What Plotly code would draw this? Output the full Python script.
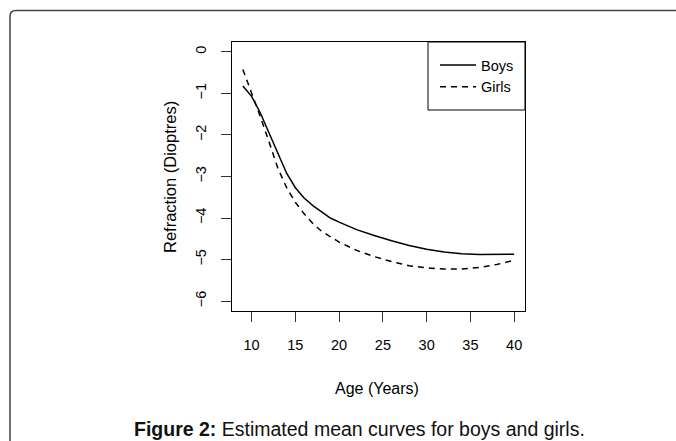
import plotly.graph_objects as go

# ---- data ----
ages = [9, 10, 11, 12, 13, 14, 15, 16, 17, 18, 19, 20, 21, 22, 24, 26, 28, 30, 32, 34, 36, 38, 40]
boys = [-0.82, -1.07, -1.47, -1.95, -2.46, -2.92, -3.27, -3.52, -3.70, -3.86, -4.00, -4.10,
        -4.20, -4.28, -4.42, -4.55, -4.66, -4.75, -4.82, -4.86, -4.88, -4.88, -4.87]
girls = [-0.42, -0.97, -1.56, -2.17, -2.80, -3.27, -3.62, -3.90, -4.13, -4.32, -4.46, -4.58,
         -4.68, -4.78, -4.93, -5.05, -5.15, -5.20, -5.23, -5.23, -5.19, -5.12, -5.02]
x_ticks = [10, 15, 20, 25, 30, 35, 40]
y_ticks = [0, -1, -2, -3, -4, -5, -6]
series_names = ["Boys", "Girls"]
x_title = "Age (Years)"
y_title = "Refraction (Dioptres)"
caption = "<b>Figure 2:</b> Estimated mean curves for boys and girls."

# ---- layout geometry (pixels) ----
W, H = 676, 441
L, R, T, B = 232, 151, 42, 130
PW, PH = W - L - R, H - T - B


def px(x):
    return (x - L) / PW


def py(y):
    return (H - B - y) / PH


FONT = "Liberation Sans, Arial, sans-serif"

fig = go.Figure()
fig.add_trace(go.Scatter(x=ages, y=boys, mode="lines", name=series_names[0],
                         line=dict(color="black", width=1.5)))
fig.add_trace(go.Scatter(x=ages, y=girls, mode="lines", name=series_names[1],
                         line=dict(color="black", width=1.5, dash="6px,5px")))

axis_common = dict(showline=True, linecolor="black", linewidth=1, mirror=True,
                   ticks="outside", ticklen=10, tickwidth=1, tickcolor="#333",
                   showgrid=False, zeroline=False,
                   tickfont=dict(family=FONT, size=14.5, color="black"))

fig.update_xaxes(range=[7.76, 41.24], tickvals=x_ticks, ticklabelstandoff=11, **axis_common)
fig.update_yaxes(range=[-6.24, 0.24], tickvals=y_ticks, tickangle=-90,
                 ticklabelstandoff=9, **axis_common)

# legend box and frame
shapes = [
    dict(type="rect", xref="paper", yref="paper",
         x0=px(428), x1=1, y0=py(110), y1=1,
         line=dict(color="black", width=1), fillcolor="white", layer="below"),
    dict(type="path", xref="paper", yref="paper",
         path=f"M {px(10)},{py(445)} L {px(10)},{py(16)} Q {px(10)},{py(10.5)} {px(16)},{py(10.5)} L {px(680)},{py(10.5)}",
         line=dict(color="#444", width=1.5)),
]

annotations = [
    dict(text=x_title, xref="paper", yref="paper", x=px(377), y=py(388),
         showarrow=False, font=dict(family=FONT, size=16, color="black"),
         xanchor="center", yanchor="middle"),
    dict(text=y_title, xref="paper", yref="paper", x=px(170), y=py(177),
         showarrow=False, textangle=-90, font=dict(family=FONT, size=16.5, color="black"),
         xanchor="center", yanchor="middle"),
    dict(text=caption, xref="paper", yref="paper", x=px(359), y=py(429),
         showarrow=False, font=dict(family=FONT, size=19.5, color="#111"),
         xanchor="center", yanchor="middle"),
]

fig.update_layout(
    width=W, height=H,
    margin=dict(l=L, r=R, t=T, b=B),
    paper_bgcolor="white", plot_bgcolor="white",
    showlegend=True,
    legend=dict(x=px(435), y=py(49), xanchor="left", yanchor="top",
                bgcolor="rgba(0,0,0,0)", borderwidth=0, itemwidth=36,
                font=dict(family=FONT, size=14.5, color="black"),
                tracegroupgap=0),
    shapes=shapes,
    annotations=annotations,
)

fig.write_html("out.html")
